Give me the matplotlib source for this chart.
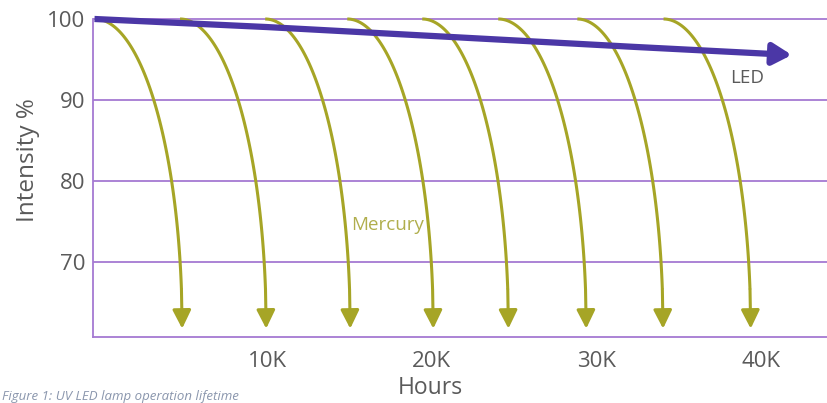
import numpy as np
import matplotlib
matplotlib.use("Agg")
import matplotlib.pyplot as plt

# ---- data ----
y_ticks = [100, 90, 80, 70]
x_ticks = [10000, 20000, 30000, 40000]
x_tick_labels = ["10K", "20K", "30K", "40K"]

# Mercury lamp lifetime curves: start hour and end hour (where they fall off)
mercury_start = [-470, 4700, 9880, 14870, 19430, 24050, 28860, 34100]
mercury_end = [4830, 9940, 15050, 20100, 24670, 29400, 34070, 39400]
mercury_top = 100
mercury_bottom = 61.7

# LED degradation line
led_hours = [-500, 10000, 21400, 32300, 41900]
led_intensity = [100.0, 99.0, 97.75, 96.55, 95.55]

grid_color = "#a57ad2"
merc_color = "#a6a526"
led_color = "#4b37a6"
text_color = "#5a5a5a"

plt.rcParams['font.family'] = ['Open Sans', 'DejaVu Sans']

fig = plt.figure(figsize=(8.28, 4.03), dpi=100)
ax = fig.add_axes([93.5 / 828, (403 - 336.7) / 403, 1 - 93.5 / 828, (336.7 - 10.9) / 403])
xmin, xmax = -560, 44100
ymin, ymax = 60.7, 101.0
ax.set_xlim(xmin, xmax)
ax.set_ylim(ymin, ymax)

for s in ['top', 'right']:
    ax.spines[s].set_visible(False)
for s in ['left', 'bottom']:
    ax.spines[s].set_color(grid_color)
    ax.spines[s].set_linewidth(1.3)
ax.spines['left'].set_bounds(ymin, 100)

for y in y_ticks:
    ax.axhline(y, color=grid_color, lw=1.3, zorder=1)

ax.set_yticks(y_ticks)
ax.set_yticklabels([str(v) for v in y_ticks], fontsize=16, color=text_color)
ax.set_xticks(x_ticks)
ax.set_xticklabels(x_tick_labels, fontsize=16, color=text_color)
ax.tick_params(length=0, pad=6)
ax.tick_params(axis='x', pad=10)

# Mercury curves (quarter ellipses)
t = np.linspace(0, np.pi / 2, 100)
for x0, x1 in zip(mercury_start, mercury_end):
    w = x1 - x0
    xs = x0 + w * np.sin(t)
    ys = mercury_top - (mercury_top - mercury_bottom) * (1 - np.cos(t))
    ax.plot(xs[:-8], ys[:-8], color=merc_color, lw=2.2, zorder=3,
            solid_capstyle='butt')
    ax.annotate('', xy=(xs[-1], ys[-1]), xytext=(xs[-9], ys[-9]),
                arrowprops=dict(arrowstyle='-|>,head_length=0.7,head_width=0.35',
                                color=merc_color, lw=2.2, mutation_scale=16,
                                shrinkA=0, shrinkB=0), zorder=3)

# LED line
ax.plot(led_hours[:-1] + [led_hours[-1] - 800],
        led_intensity[:-1] + [led_intensity[-1] + 0.08],
        color=led_color, lw=4.5, zorder=4, clip_on=False, solid_capstyle='butt')
ax.annotate('', xy=(led_hours[-1], led_intensity[-1]),
            xytext=(led_hours[-1] - 900, led_intensity[-1] + 0.09),
            arrowprops=dict(arrowstyle='-|>,head_length=0.7,head_width=0.4',
                            color=led_color, lw=4.5, mutation_scale=16,
                            shrinkA=0, shrinkB=0), zorder=4)

ax.text(39200, 92.7, "LED", fontsize=13.5, color=text_color, ha='center', va='center')
ax.text(17300, 74.5, "Mercury", fontsize=13.5, color="#b0ae4c", ha='center', va='center')

fig.text(28 / 828, 1 - 160 / 403, "Intensity %", rotation=90, fontsize=17.5,
         color=text_color, ha='center', va='center')
fig.text(430 / 828, 1 - 388 / 403, "Hours", fontsize=16.5, color=text_color,
         ha='center', va='center')
fig.text(2 / 828, 1 - 400 / 403, "Figure 1: UV LED lamp operation lifetime",
         fontsize=9.5, style='italic', color="#8a96ad", ha='left', va='baseline')

fig.savefig("out.png", dpi=100)
